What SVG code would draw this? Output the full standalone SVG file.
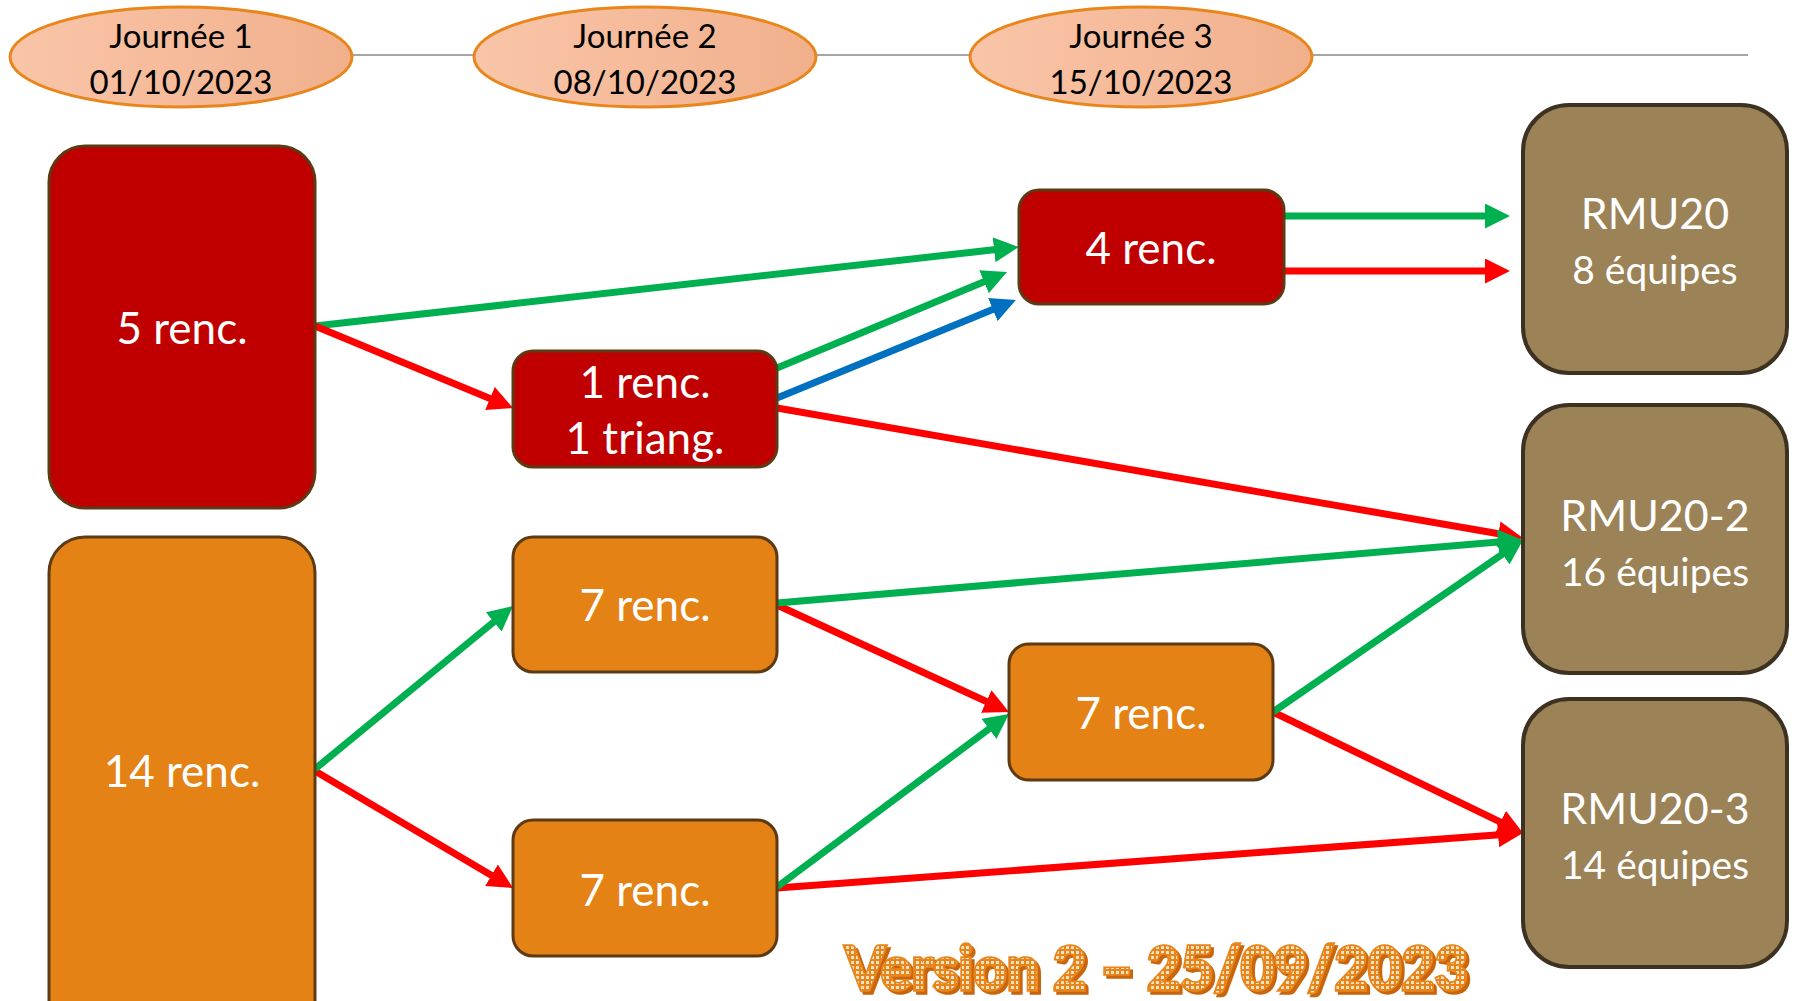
<svg xmlns="http://www.w3.org/2000/svg" width="1794" height="1001" viewBox="0 0 1794 1001">
<defs>
<linearGradient id="ellG" x1="0" y1="0" x2="1" y2="0">
<stop offset="0" stop-color="#F9C5A8"/>
<stop offset="1" stop-color="#F1B08C"/>
</linearGradient>
<pattern id="chk" width="5" height="5" patternUnits="userSpaceOnUse">
<rect width="5" height="5" fill="#E8861C"/>
<rect x="1" y="1" width="3" height="3" fill="#FBE3C6"/>
</pattern>
<filter id="sh" x="-5%" y="-20%" width="110%" height="140%">
<feDropShadow dx="3" dy="3" stdDeviation="0.5" flood-color="#C9650E" flood-opacity="1"/>
</filter>
<marker id="aG" markerUnits="userSpaceOnUse" markerWidth="25" markerHeight="25" refX="15" refY="12.5" orient="auto"><path d="M0,0 L25,12.5 L0,25 z" fill="#00B050"/></marker>
<marker id="aR" markerUnits="userSpaceOnUse" markerWidth="25" markerHeight="25" refX="15" refY="12.5" orient="auto"><path d="M0,0 L25,12.5 L0,25 z" fill="#FF0000"/></marker>
<marker id="aB" markerUnits="userSpaceOnUse" markerWidth="25" markerHeight="25" refX="15" refY="12.5" orient="auto"><path d="M0,0 L25,12.5 L0,25 z" fill="#0070C0"/></marker>
</defs>
<style>
.ell{fill:url(#ellG);stroke:#E8861C;stroke-width:3}
.jt{font-family:Lato,"Liberation Sans",sans-serif;font-size:33px;fill:#000;text-anchor:middle}
.red{fill:#C00000;stroke:#5C3A14;stroke-width:3}
.org{fill:#E48215;stroke:#5C3A14;stroke-width:3}
.rmu{fill:#9C8257;stroke:#3D3222;stroke-width:4}
.nt{font-family:Lato,"Liberation Sans",sans-serif;font-size:44px;fill:#fff;text-anchor:middle}
.rt{font-family:Lato,"Liberation Sans",sans-serif;font-size:43px;fill:#fff;text-anchor:middle}
.eq{font-family:Lato,"Liberation Sans",sans-serif;font-size:39px;fill:#fff;text-anchor:middle}
.g{stroke:#00B050;stroke-width:7;fill:none;marker-end:url(#aG)}
.r{stroke:#FF0000;stroke-width:7;fill:none;marker-end:url(#aR)}
.b{stroke:#0070C0;stroke-width:7;fill:none;marker-end:url(#aB)}
</style>
<rect width="1794" height="1001" fill="#fff"/>
<g id="timeline">
<line x1="352" y1="55" x2="1748" y2="55" stroke="#A6A6A6" stroke-width="2"/>
</g>
<g id="j1"><ellipse class="ell" cx="181" cy="57" rx="171" ry="50"/><text class="jt" x="181" y="48">Journée 1</text><text class="jt" x="181" y="94">01/10/2023</text></g>
<g id="j2"><ellipse class="ell" cx="645" cy="57" rx="171" ry="50"/><text class="jt" x="645" y="48">Journée 2</text><text class="jt" x="645" y="94">08/10/2023</text></g>
<g id="j3"><ellipse class="ell" cx="1141" cy="57" rx="171" ry="50"/><text class="jt" x="1141" y="48">Journée 3</text><text class="jt" x="1141" y="94">15/10/2023</text></g>
<g id="connectors">
<line class="g" x1="315" y1="326" x2="1009" y2="248.1"/>
<line class="r" x1="315" y1="326" x2="503.8" y2="404.2"/>
<line class="g" x1="777" y1="368" x2="997.8" y2="275.9"/>
<line class="b" x1="777" y1="398" x2="1006.7" y2="303.8"/>
<line class="r" x1="777" y1="408" x2="1513.1" y2="536.3"/>
<line class="g" x1="1284" y1="216" x2="1500" y2="216"/>
<line class="r" x1="1284" y1="271" x2="1500" y2="271"/>
<line class="r" x1="777" y1="605" x2="999.9" y2="707.8"/>
<line class="r" x1="315" y1="771" x2="504.4" y2="882.9"/>
<line class="r" x1="777" y1="888" x2="1513" y2="833.7"/>
<line class="r" x1="1273" y1="712" x2="1514" y2="828.6"/>
<line class="g" x1="777" y1="603" x2="1513" y2="540.8"/>
<line class="g" x1="315" y1="769" x2="505.3" y2="612.4"/>
<line class="g" x1="777" y1="887" x2="1001" y2="720"/>
<line class="g" x1="1273" y1="712" x2="1514.8" y2="545.7"/>
</g>
<g id="n5"><rect class="red" x="49" y="146" width="266" height="362" rx="36"/><text class="nt" x="182" y="344">5 renc.</text></g>
<g id="n14"><rect class="org" x="49" y="537" width="266" height="500" rx="36"/><text class="nt" x="182" y="787">14 renc.</text></g>
<g id="n1t"><rect class="red" x="513" y="351" width="264" height="116" rx="20"/><text class="nt" x="645" y="398">1 renc.</text><text class="nt" x="645" y="454">1 triang.</text></g>
<g id="n7a"><rect class="org" x="513" y="537" width="264" height="135" rx="20"/><text class="nt" x="645" y="621">7 renc.</text></g>
<g id="n7b"><rect class="org" x="513" y="820" width="264" height="136" rx="20"/><text class="nt" x="645" y="906">7 renc.</text></g>
<g id="n4"><rect class="red" x="1019" y="190" width="265" height="114" rx="20"/><text class="nt" x="1151" y="264">4 renc.</text></g>
<g id="n7c"><rect class="org" x="1009" y="644" width="264" height="136" rx="20"/><text class="nt" x="1141" y="729">7 renc.</text></g>
<g id="rmu20"><rect class="rmu" x="1523" y="105" width="264" height="268" rx="46"/><text class="rt" x="1655" y="229">RMU20</text><text class="eq" x="1655" y="284">8 équipes</text></g>
<g id="rmu20-2"><rect class="rmu" x="1523" y="405" width="264" height="268" rx="46"/><text class="rt" x="1655" y="531">RMU20-2</text><text class="eq" x="1655" y="586">16 équipes</text></g>
<g id="rmu20-3"><rect class="rmu" x="1523" y="699" width="264" height="268" rx="46"/><text class="rt" x="1655" y="824">RMU20-3</text><text class="eq" x="1655" y="879">14 équipes</text></g>
<g id="version">
<text x="845" y="990" textLength="623" lengthAdjust="spacingAndGlyphs" font-family="Lato,'Liberation Sans',sans-serif" font-weight="900" font-size="60" fill="url(#chk)" stroke="#E8861C" stroke-width="3.5" paint-order="stroke" filter="url(#sh)">Version 2 – 25/09/2023</text>
</g>
</svg>
